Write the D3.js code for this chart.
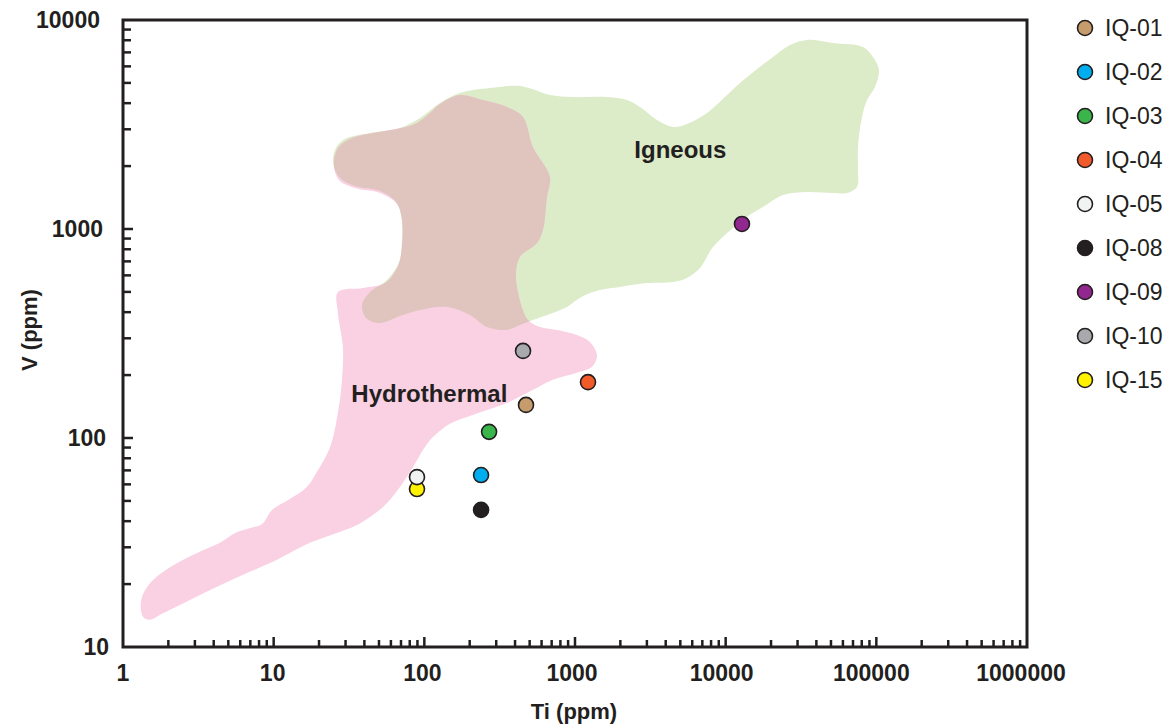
<!DOCTYPE html>
<html>
<head>
<meta charset="utf-8">
<script src="https://cdn.jsdelivr.net/npm/d3@7"></script>
<style>
  html, body { margin: 0; padding: 0; background: #ffffff; }
  svg { display: block; font-family: "Liberation Sans", Arial, sans-serif; }
</style>
</head>
<body>
<svg id="chart" width="1172" height="726"></svg>
<script>
// ---- Data ----
const sampleNames = ["IQ-01","IQ-02","IQ-03","IQ-04","IQ-05","IQ-08","IQ-09","IQ-10","IQ-15"];
const tiValues    = [473, 238, 269, 1220, 89.4, 238, 12830, 452, 89.4];
const vValues     = [144, 66.5, 107, 185, 65.0, 45.3, 1057, 261, 57.0];
const sampleColors = ["#c69c6d","#00aeef","#39b54a","#f15a29","#f1f2f2","#231f20","#92278f","#a7a9ac","#fff200"];
// plotting order (IQ-05 drawn after IQ-15 so it sits on top)
const drawOrder = [0,1,2,3,8,4,5,6,7];

const xTickValues = [1, 10, 100, 1000, 10000, 100000, 1000000];
const xTickLabels = ["1","10","100","1000","10000","100000","1000000"];
const yTickValues = [10, 100, 1000, 10000];
const yTickLabels = ["10","100","1000","10000"];

// Field outlines (Ti ppm, V ppm)
const igneousTi = [24.8,25.9,29.7,43.6,68.9,93.6,127,172,273,431,543,682,970,1631,2213,2700,3501,4471,5537,7516,12450,20610,26720,34640,51570,81540,95020,104100,98000,86700,80320,75560,75560,74400,63870,51570,34640,24010,17690,14070,11180,8238,6753,5537,4471,3005,1989,1465,1130,885,682,526,431,354,260,201,141,93.6,68.9,50.8,41.0,38.6,43.6,56.5,67.9,71.1,70.0,64.9,50.8,34.7,27.6];
const igneousV  = [2070,2441,2695,2879,3043,3397,4008,4474,4727,4833,4624,4376,4280,4280,4141,3834,3323,3076,3180,3589,4994,6653,7593,8024,7762,7427,6653,5765,4780,4141,3435,2468,1916,1589,1486,1486,1503,1454,1274,1154,1011,820,651,583,558,551,528,511,478,424,392,367,347,329,340,388,424,410,383,355,375,433,499,570,695,886,1167,1347,1519,1606,1754];

const hydroTi = [127,172,245,354,452,526,682,652,613,560,431,406,425,488,586,760,1031,1257,1400,1297,1031,714,526,354,260,192,148,114,98,84.1,68.9,53.2,35.7,26.3,17.4,12.8,9.45,6.65,4.21,2.78,1.84,1.51,1.36,1.32,1.51,2.05,3.10,4.40,5.54,6.97,8.37,9.75,12.8,16.6,19.7,23.7,26.7,28.4,28.8,26.7,26.7,39.2,54.8,66.9,71.1,71.1,65.8,50.8,34.7,27.1,25.1,26.7,33.1,54.8,86.7,109];
const hydroV  = [3963,4376,4141,3834,3435,2468,1774,1423,989,857,735,616,473,367,340,329,311,288,247,219,205,190,170,147,136,126,117,101,87.6,72.6,58.3,46.8,38.3,35.1,31.5,28.2,25.2,22.6,19.4,16.8,14.5,13.5,13.9,16.8,20.2,24.1,28.2,31.5,35.1,37.1,38.8,45.3,51.1,58.3,70.3,90.6,132,190,272,396,499,522,551,665,838,1104,1317,1486,1571,1716,2024,2441,2724,2944,3180,3589];

const fieldLabels = ["Igneous", "Hydrothermal"];
const fieldLabelTi = [5000, 108];
const fieldLabelV  = [2180, 149];

// ---- Setup ----
const svg = d3.select("#chart");
const ink = "#231f20";
const x = d3.scaleLog().domain([1, 1000000]).range([123, 1027]);
const y = d3.scaleLog().domain([10, 10000]).range([647, 20]);

const line = d3.line().x(d => x(d[0])).y(d => y(d[1])).curve(d3.curveCatmullRomClosed.alpha(0.5));
const igneousPts = igneousTi.map((t, i) => [t, igneousV[i]]);
const hydroPts = hydroTi.map((t, i) => [t, hydroV[i]]);

const defs = svg.append("defs");
defs.append("clipPath").attr("id", "clipIgneous").append("path").attr("d", line(igneousPts));

// fields
svg.append("path").attr("d", line(igneousPts)).attr("fill", "#dcebc8");
svg.append("path").attr("d", line(hydroPts)).attr("fill", "#f9d1e3");
svg.append("path").attr("d", line(hydroPts)).attr("fill", "#e0c5bf").attr("clip-path", "url(#clipIgneous)");

// field labels
svg.selectAll("text.field").data(fieldLabels).join("text")
  .attr("class", "field")
  .attr("x", (d, i) => x(fieldLabelTi[i]))
  .attr("y", (d, i) => y(fieldLabelV[i]))
  .attr("text-anchor", "middle")
  .attr("font-size", 24).attr("font-weight", "bold").attr("fill", ink)
  .text(d => d);

// ---- Axes ----
const xMinor = [];
for (let k = 0; k < 6; k++) for (let m = 2; m <= 9; m++) xMinor.push(m * Math.pow(10, k));
const yMinor = [];
for (let k = 1; k < 4; k++) for (let m = 2; m <= 9; m++) yMinor.push(m * Math.pow(10, k));

const axisG = svg.append("g").attr("stroke", ink).attr("stroke-width", 2.5);
axisG.selectAll("line.xmaj").data(xTickValues.slice(1, 6)).join("line")
  .attr("x1", d => x(d)).attr("x2", d => x(d)).attr("y1", 647).attr("y2", 637);
axisG.selectAll("line.xmin").data(xMinor).join("line")
  .attr("x1", d => x(d)).attr("x2", d => x(d)).attr("y1", 647).attr("y2", 640);
axisG.selectAll("line.ymaj").data(yTickValues.slice(1, 3)).join("line")
  .attr("y1", d => y(d)).attr("y2", d => y(d)).attr("x1", 123).attr("x2", 133);
axisG.selectAll("line.ymin").data(yMinor).join("line")
  .attr("y1", d => y(d)).attr("y2", d => y(d)).attr("x1", 123).attr("x2", 131);

// frame
svg.append("rect")
  .attr("x", x(1)).attr("y", y(10000))
  .attr("width", x(1000000) - x(1)).attr("height", y(10) - y(10000))
  .attr("fill", "none").attr("stroke", ink).attr("stroke-width", 3);

// tick labels
svg.selectAll("text.xt").data(xTickValues).join("text")
  .attr("class", "xt")
  .attr("x", d => x(d)).attr("dx", (d, i) => -i).attr("y", 681)
  .attr("text-anchor", "middle")
  .attr("font-size", 23).attr("font-weight", "bold").attr("fill", ink)
  .text((d, i) => xTickLabels[i]);
svg.selectAll("text.yt").data(yTickValues).join("text")
  .attr("class", "yt")
  .attr("x", 106).attr("dx", (d, i) => (5 - yTickLabels[i].length) * 3 - 6).attr("y", d => y(d) + 8)
  .attr("text-anchor", "end")
  .attr("font-size", 23).attr("font-weight", "bold").attr("fill", ink)
  .text((d, i) => yTickLabels[i]);

// axis titles
svg.append("text").attr("x", 574).attr("y", 719).attr("text-anchor", "middle")
  .attr("font-size", 22).attr("font-weight", "bold").attr("fill", ink).text("Ti (ppm)");
svg.append("text").attr("transform", "translate(37,330) rotate(-90)").attr("text-anchor", "middle")
  .attr("font-size", 22).attr("font-weight", "bold").attr("fill", ink).text("V (ppm)");

// ---- Points ----
svg.selectAll("circle.pt").data(drawOrder).join("circle")
  .attr("class", "pt")
  .attr("cx", i => x(tiValues[i])).attr("cy", i => y(vValues[i]))
  .attr("r", 7.5)
  .attr("fill", i => sampleColors[i]).attr("stroke", ink).attr("stroke-width", 1.6);

// ---- Legend ----
const lg = svg.append("g");
const items = lg.selectAll("g").data(sampleNames).join("g")
  .attr("transform", (d, i) => `translate(1085,${28 + i * 44})`);
items.append("circle").attr("r", 7.5)
  .attr("fill", (d, i) => sampleColors[i]).attr("stroke", ink).attr("stroke-width", 1.6);
items.append("text").attr("x", 20).attr("y", 8)
  .attr("font-size", 23).attr("fill", ink).text(d => d);
</script>
</body>
</html>
